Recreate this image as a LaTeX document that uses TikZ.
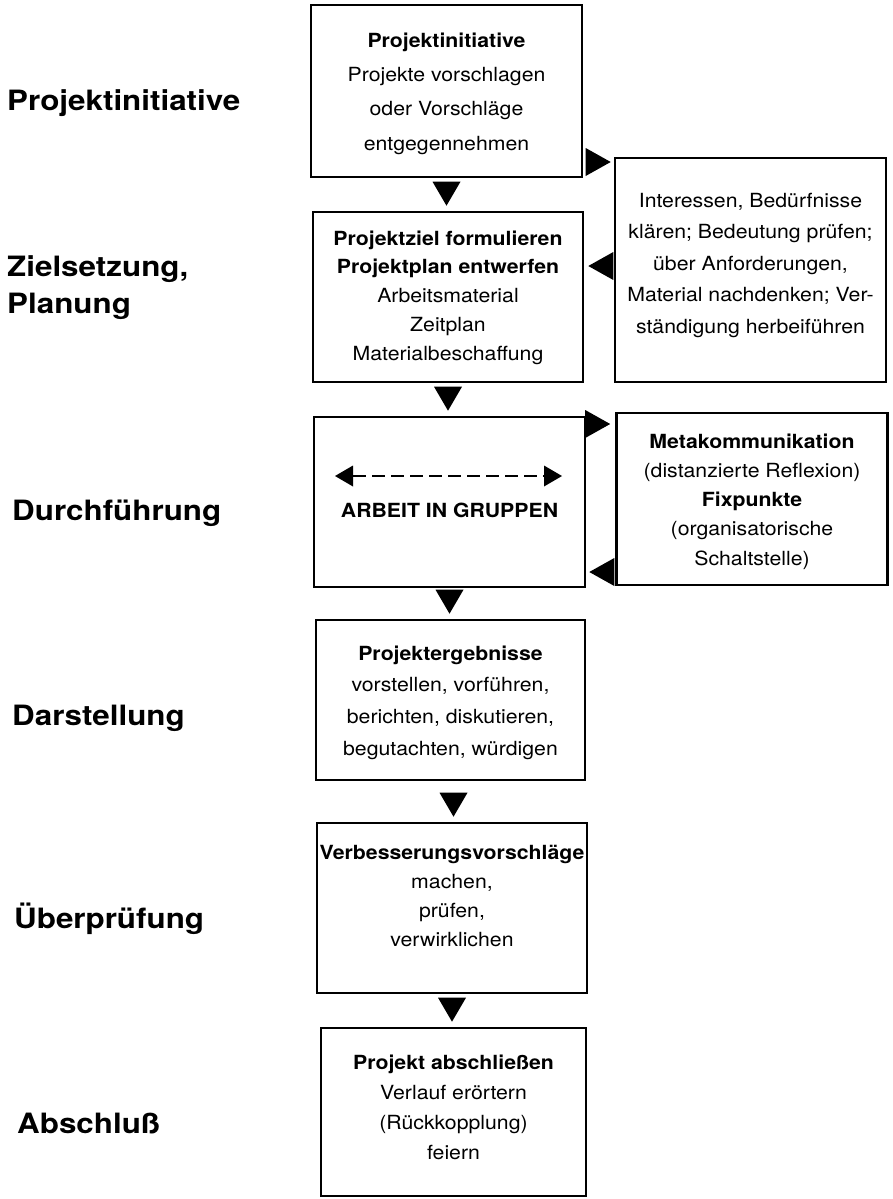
\documentclass[tikz,border=0pt]{standalone}
\usepackage{fontspec}
\setmainfont{TeX Gyre Heros}[FakeStretch=1.09]
\newfontfamily\labfont{TeX Gyre Heros}[FakeStretch=1.12]
\usetikzlibrary{arrows.meta}
\tikzset{
  box/.style={draw, line width=2.6pt, inner sep=0pt},
  txt/.style={align=center, inner sep=0pt},
  lab/.style={anchor=base west, inner sep=0pt, font=\labfont\fontsize{28}{30}\selectfont\bfseries},
  flow/.style={line width=0.4pt, -{Triangle[length=24pt,width=28pt,line width=0pt]}},
  side/.style={line width=0.4pt, -{Triangle[length=25pt,width=28pt,line width=0pt]}},
  dasharr/.style={line width=2.6pt, dash pattern=on 13pt off 6pt,
    {Triangle[length=18pt,width=21pt,line width=0pt]}-{Triangle[length=18pt,width=21pt,line width=0pt]}},
}
\begin{document}
\begin{tikzpicture}[x=1pt,y=-1pt]
\useasboundingbox (0,0) rectangle (892,1199);

% left phase labels
\node[lab] (l1)  at (7,110)   {Projektinitiative};
\node[lab] (l2a) at (7,276)   {Zielsetzung,};
\node[lab] (l2b) at (7,313)   {Planung};
\node[lab] (l3)  at (12,520)  {Durchführung};
\node[lab] (l4)  at (12,725)  {Darstellung};
\node[lab] (l5)  at (14,928)  {Überprüfung};
\node[lab] (l6)  at (17,1133) {Abschluß};

% boxes
\node[box, minimum width=271pt, minimum height=172pt] (b1) at (446.5,91)  {};
\node[box, minimum width=271pt, minimum height=224pt] (bA) at (750.5,270) {};
\node[box, minimum width=270pt, minimum height=170pt] (b2) at (448,297)   {};
\node[box, minimum width=271pt, minimum height=170pt] (b3) at (449.5,502) {};
\node[box, minimum width=271pt, minimum height=172pt] (bB) at (752,499)   {};
\node[box, minimum width=269pt, minimum height=160pt] (b4) at (450.5,700) {};
\node[box, minimum width=270pt, minimum height=170pt] (b5) at (452,908)   {};
\node[box, minimum width=265pt, minimum height=168pt] (b6) at (453.5,1112) {};

% box texts
\node[txt, font=\fontsize{19.5}{34.3}\selectfont] (t1) at (446.5,93.5)
  {\textbf{Projektinitiative}\\Projekte vorschlagen\\oder Vorschläge\\entgegennehmen};
\node[txt, font=\fontsize{19.5}{31.5}\selectfont] (tA) at (750.5,265)
  {Interessen, Bedürfnisse\\klären; Bedeutung prüfen;\\über Anforderungen,\\Material nachdenken; Ver-\\ständigung herbeiführen};
\node[txt, font=\fontsize{19.5}{28.75}\selectfont] (t2) at (448,297.5)
  {\textbf{Projektziel formulieren}\\\textbf{Projektplan entwerfen}\\Arbeitsmaterial\\Zeitplan\\Materialbeschaffung};
\node[txt, font=\fontsize{19.5}{24}\selectfont\bfseries] (t3) at (449.5,510) {ARBEIT IN GRUPPEN};
\node[txt, font=\fontsize{19.5}{29.25}\selectfont] (tB) at (752,501.5)
  {\textbf{Metakommunikation}\\(distanzierte Reflexion)\\\textbf{Fixpunkte}\\(organisatorische\\Schaltstelle)};
\node[txt, font=\fontsize{19.5}{31.7}\selectfont] (t4) at (450.5,702.5)
  {\textbf{Projektergebnisse}\\vorstellen, vorführen,\\berichten, diskutieren,\\begutachten, würdigen};
\node[txt, font=\fontsize{19.5}{29.3}\selectfont] (t5) at (452,896)
  {\textbf{Verbesserungsvorschläge}\\machen,\\prüfen,\\verwirklichen};
\node[txt, font=\fontsize{19.5}{30}\selectfont] (t6) at (453.5,1107)
  {\textbf{Projekt abschließen}\\Verlauf erörtern\\(Rückkopplung)\\feiern};

% dashed double arrow inside the work box
\coordinate (gl) at (335,476);
\coordinate (gr) at (562,476);
\draw[dasharr] (gl) -- (gr);

% downward flow arrows
\draw[flow, shorten <=6pt, shorten >=5pt] (b1.south) -- (b1.south |- b2.north);
\draw[flow, shorten <=6pt, shorten >=5pt] (b2.south) -- (b2.south |- b3.north);
\draw[flow, shorten <=4pt, shorten >=5pt] (b3.south) -- (b3.south |- b4.north);
\draw[flow, shorten <=14pt, shorten >=5pt] ([xshift=3pt]b4.south) -- ([xshift=3pt]b4.south |- b5.north);
\draw[flow, shorten <=6pt, shorten >=5pt] (b5.south) -- (b5.south |- b6.north);

% side arrows
\draw[side, shorten <=5pt, shorten >=3pt] (b1.east |- 0,162) -- (bA.west |- 0,162);
\draw[side, shorten <=3pt, shorten >=4pt] (bA.west |- 0,266) -- (b2.east |- 0,266);
\draw[side, shorten <=2pt, shorten >=5pt] (b3.east |- 0,424) -- (bB.west |- 0,424);
\draw[side, shorten <=4pt, shorten >=3pt] (bB.west |- 0,572) -- (b3.east |- 0,572);
\end{tikzpicture}
\end{document}
